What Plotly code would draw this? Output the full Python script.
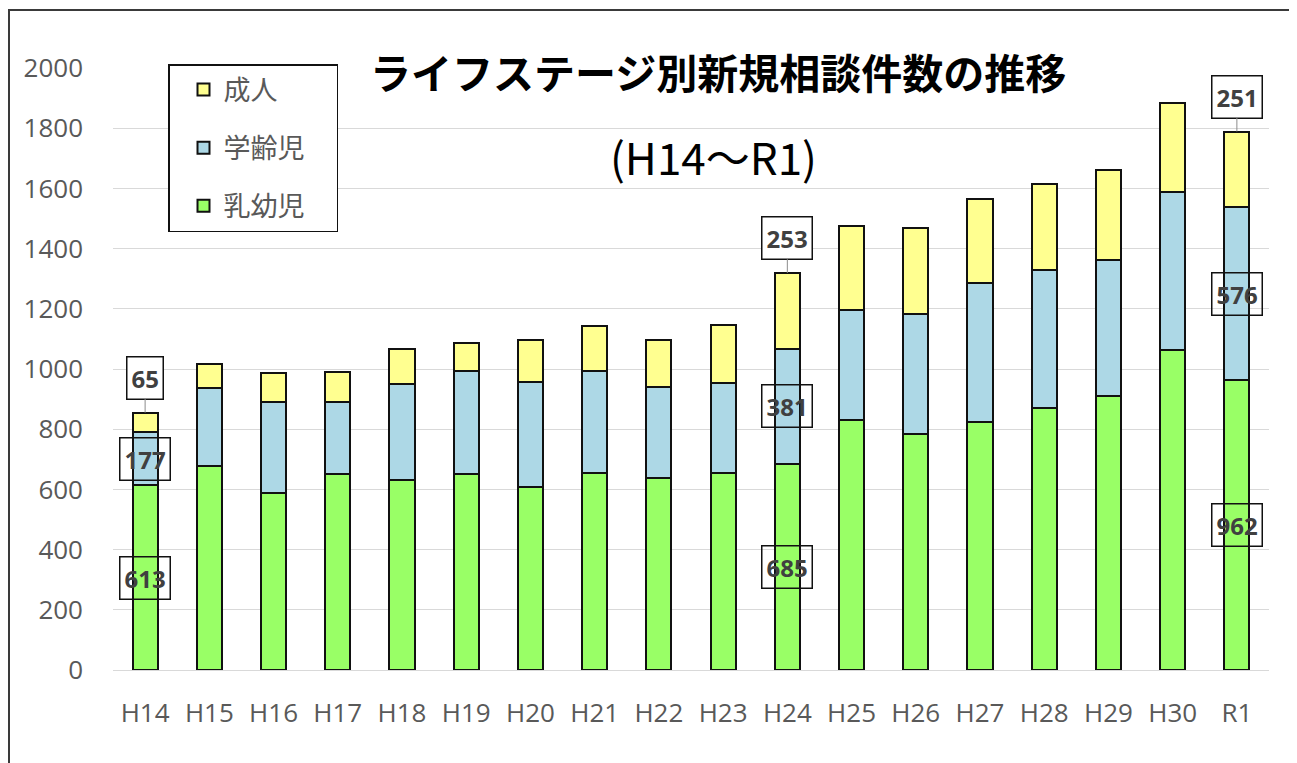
import plotly.graph_objects as go

categories = ["H14", "H15", "H16", "H17", "H18", "H19", "H20", "H21", "H22",
              "H23", "H24", "H25", "H26", "H27", "H28", "H29", "H30", "R1"]
infant = [613, 677, 589, 651, 632, 652, 609, 656, 638, 655, 685, 830, 783, 824, 872, 909, 1062, 962]
school = [177, 259, 300, 241, 318, 340, 348, 337, 302, 297, 381, 366, 401, 463, 457, 452, 527, 576]
adult = [65, 81, 97, 99, 115, 95, 140, 149, 157, 193, 253, 278, 286, 279, 286, 301, 296, 251]
series_names = ["乳幼児", "学齢児", "成人"]
colors = ["#99FF66", "#ADD8E6", "#FFFF90"]
legend_ranks = [3, 2, 1]
labeled = ["H14", "H24", "R1"]
title_main = "ライフステージ別新規相談件数の推移"
title_sub = "(H14～R1)"
y_ticks = [0, 200, 400, 600, 800, 1000, 1200, 1400, 1600, 1800, 2000]

# page has an 8px body margin; figure sized so that it fits the window
W, H = 1289, 755
ml, mr, mt, mb = 105, 28, 60, 93
PL, PR, PT, PB = 113, 1269, 68, 670  # plot area in screenshot pixels
pw, ph = PR - PL, PB - PT


def px(X):
    return (X - PL) / pw


def py(Y):
    return (PB - Y) / ph


fig = go.Figure()
for name, vals, col, rk in zip(series_names, [infant, school, adult], colors, legend_ranks):
    fig.add_trace(go.Bar(
        x=categories, y=vals, name=name + "\u3000", legendgroup=name, legendrank=rk,
        marker=dict(color=col, line=dict(color="#111111", width=2)),
        hovertemplate=name + " %{x}: %{y}<extra></extra>",
    ))

annotations = []
lab_font = dict(family="Open Sans, DejaVu Sans", size=24, color="#404040")
box = dict(bordercolor="#111111", borderwidth=1.5, borderpad=4)
for cat in labeled:
    k = categories.index(cat)
    a, b, c = infant[k], school[k], adult[k]
    annotations.append(dict(x=cat, y=a / 2, xref="x", yref="y", text=f"<b>{a}</b>",
                            showarrow=False, font=lab_font, bgcolor="rgba(0,0,0,0)", **box))
    annotations.append(dict(x=cat, y=a + b / 2, xref="x", yref="y", text=f"<b>{b}</b>",
                            showarrow=False, font=lab_font, bgcolor="rgba(0,0,0,0)", **box))
    annotations.append(dict(x=cat, y=a + b + c, xref="x", yref="y", text=f"<b>{c}</b>",
                            showarrow=True, arrowhead=0, arrowwidth=1, arrowcolor="#8c8c8c",
                            ax=0, ay=-35, standoff=0,
                            font=lab_font, bgcolor="white", **box))

annotations.append(dict(x=px(718), y=py(71), xref="paper", yref="paper",
                        xanchor="center", yanchor="middle",
                        text=f"<b>{title_main}</b>", showarrow=False,
                        font=dict(family="Noto Sans CJK JP", size=41, color="black")))
annotations.append(dict(x=px(713), y=py(156), xref="paper", yref="paper",
                        xanchor="center", yanchor="middle",
                        text=title_sub, showarrow=False,
                        font=dict(family="Noto Sans CJK JP", size=44, color="black")))

fig.update_layout(
    width=W, height=H,
    margin=dict(l=ml, r=mr, t=mt, b=mb, autoexpand=False),
    barmode="stack", bargap=0.61,
    plot_bgcolor="white", paper_bgcolor="white",
    font=dict(family="Open Sans, DejaVu Sans", color="#595959"),
    xaxis=dict(showgrid=False, showline=False, ticks="", tickfont=dict(size=26, color="#595959"),
               ticklabelstandoff=25),
    yaxis=dict(range=[0, 2000], tickvals=y_ticks, showgrid=True, gridcolor="#D9D9D9",
               gridwidth=1, zeroline=True, zerolinecolor="#D9D9D9", zerolinewidth=1,
               showline=False, ticks="", tickfont=dict(size=26, color="#595959"),
               ticklabelstandoff=29),
    legend=dict(x=px(168), y=py(64), xanchor="left", yanchor="top",
                bgcolor="white", bordercolor="#111111", borderwidth=1.5,
                traceorder="grouped", tracegroupgap=20, indentation=14,
                font=dict(family="Noto Sans CJK JP", size=27, color="#595959")),
    annotations=annotations,
    shapes=[dict(type="rect", xref="paper", yref="paper",
                 x0=px(9), x1=px(1292), y0=py(800), y1=py(10),
                 line=dict(color="#3a3a3a", width=2), fillcolor="rgba(0,0,0,0)", layer="above")],
    showlegend=True,
)

fig.write_html("out.html")
